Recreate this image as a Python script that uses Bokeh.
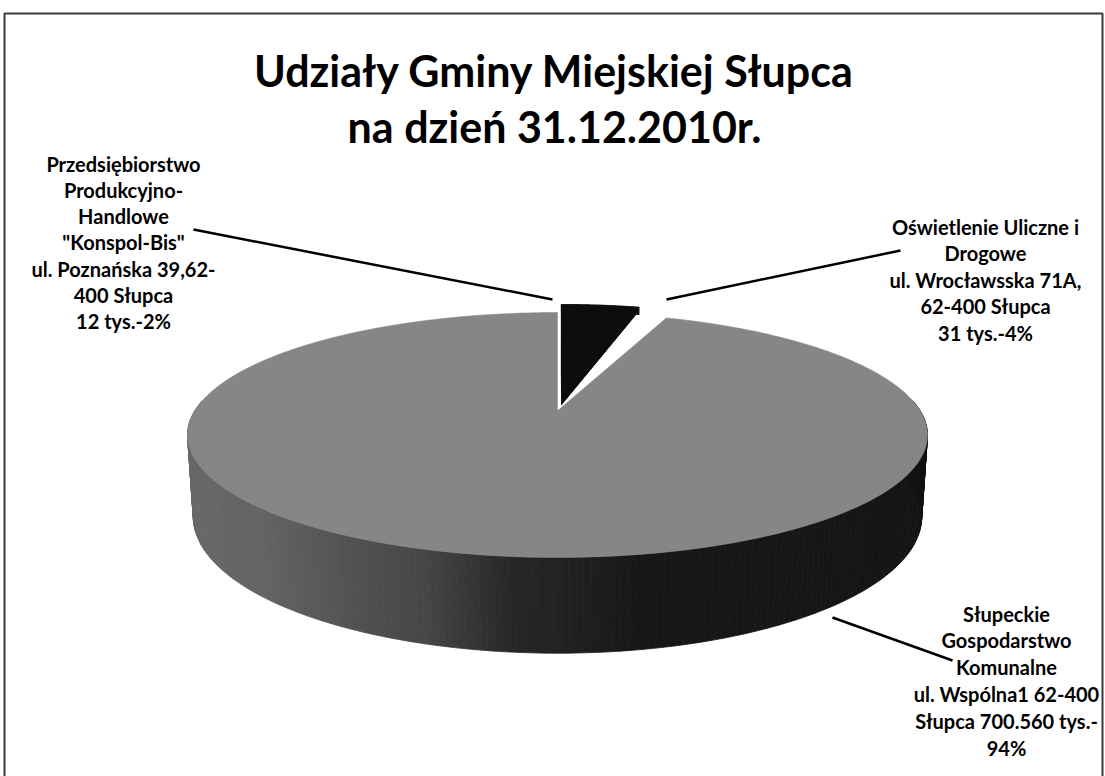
import numpy as np
from bokeh.plotting import figure
from bokeh.models import Range1d
from bokeh.core.properties import value
from bokeh.embed import file_html
from bokeh.resources import INLINE

# ---------------- data ----------------
# slices in clockwise order starting at 12 o'clock
slice_names = ["Oświetlenie Uliczne i Drogowe",
               "Przedsiębiorstwo Produkcyjno-Handlowe \"Konspol-Bis\"",
               "Słupeckie Gospodarstwo Komunalne"]
slice_values = [31.0, 12.0, 700.56]          # tys.
slice_colors = ["#0d0d0d", "#ffffff", "#868686"]
slice_explode = [0.10, 0.0, 0.0]

title_lines = ["Udziały Gminy Miejskiej Słupca", "na dzień 31.12.2010r."]
label_left = ["Przedsiębiorstwo", "Produkcyjno-", "Handlowe", "\"Konspol-Bis\"",
              "ul. Poznańska 39,62-", "400 Słupca", "12 tys.-2%"]
label_right = ["Oświetlenie Uliczne i", "Drogowe", "ul. Wrocławsska 71A,",
               "62-400 Słupca", "31 tys.-4%"]
label_bottom = ["Słupeckie", "Gospodarstwo", "Komunalne", "ul. Wspólna1 62-400",
                "Słupca 700.560 tys.-", "94%"]

# ---------------- 3D projection ----------------
alpha = np.radians(18.5)
ca, sa = np.cos(alpha), np.sin(alpha)
D = 4.8

def proj(X, Y, Z):
    depth = D + Y * ca - Z * sa
    return X / depth, -(Y * sa + Z * ca) / depth

th = np.linspace(0, 2 * np.pi, 1441)
rx, ry = proj(np.sin(th), np.cos(th), 0 * th)
CX, TOP, WIDTH, HEIGHT, THICK = 557.0, 312.0, 740.0, 245.0, 105.0
kx = WIDTH / (rx.max() - rx.min())
ky = HEIGHT / (ry.max() - ry.min())
y0 = TOP - ky * ry.min()

def scr(X, Y, Z):
    sx, sy = proj(X, Y, Z)
    return CX + kx * sx, y0 + ky * sy

# thickness so that the front wall is THICK px tall
T = sa / (D - ca) + THICK / ky
H = (T * (D - ca) - sa) / (ca + T * sa)

total = sum(slice_values)
angles = np.cumsum([0] + [v / total * 2 * np.pi for v in slice_values])

p = figure(width=1105, height=776, x_range=Range1d(0, 1105), y_range=Range1d(776, 0),
           output_backend="svg", toolbar_location=None, min_border=0)
p.axis.visible = False
p.grid.visible = False
p.outline_line_color = None
p.background_fill_color = "white"
p.border_fill_color = "white"

def wall_gray(t):
    d = np.degrees(t) % 360
    g = int(np.interp(d, [90, 170, 186, 197, 224, 270], [18, 24, 40, 70, 100, 108]))
    return "#%02x%02x%02x" % (g, g, g)

# draw order: back slices first, big gray slice last
for i in [0, 1, 2]:
    a0, a1 = angles[i], angles[i + 1]
    mid = (a0 + a1) / 2
    ex, ey = slice_explode[i] * np.sin(mid), slice_explode[i] * np.cos(mid)
    t = np.linspace(a0, a1, max(3, int(np.degrees(a1 - a0) * 2)))
    col = slice_colors[i]
    xs_all, ys_all, cols = [], [], []
    if i != 2:
        # small slice: all faces in its own colour
        for Z in (-H, 0.0):
            X = np.concatenate([[ex], ex + np.sin(t)])
            Y = np.concatenate([[ey], ey + np.cos(t)])
            sx, sy = scr(X, Y, Z + 0 * X)
            xs_all.append(list(sx)); ys_all.append(list(sy)); cols.append(col)
        for tt in (a0, a1):
            X = np.array([ex, ex + np.sin(tt), ex + np.sin(tt), ex])
            Y = np.array([ey, ey + np.cos(tt), ey + np.cos(tt), ey])
            Z = np.array([0, 0, -H, -H])
            sx, sy = scr(X, Y, Z)
            xs_all.append(list(sx)); ys_all.append(list(sy)); cols.append(col)
        X = np.concatenate([ex + np.sin(t), ex + np.sin(t[::-1])])
        Y = np.concatenate([ey + np.cos(t), ey + np.cos(t[::-1])])
        Z = np.concatenate([0 * t, -H + 0 * t])
        sx, sy = scr(X, Y, Z)
        xs_all.append(list(sx)); ys_all.append(list(sy)); cols.append(col)
        p.patches(xs_all, ys_all, fill_color=cols, line_color=cols, line_width=0.6)
    else:
        # outer wall (front part), drawn back-to-front
        lo, hi = max(a0, np.radians(85)), min(a1, np.radians(275))
        edges = np.linspace(lo, hi, 200)
        segs = list(zip(edges[:-1], edges[1:]))
        segs.sort(key=lambda s: -abs((s[0] + s[1]) / 2 - np.pi))
        for s0, s1 in segs:
            tt = np.array([s0, s1, s1, s0])
            X = ex + np.sin(tt); Y = ey + np.cos(tt)
            Z = np.array([0, 0, -H, -H])
            sx, sy = scr(X, Y, Z)
            c = wall_gray((s0 + s1) / 2)
            xs_all.append(list(sx)); ys_all.append(list(sy)); cols.append(c)
        p.patches(xs_all, ys_all, fill_color=cols, line_color=cols, line_width=0.8)
        X = np.concatenate([[ex], ex + np.sin(t)])
        Y = np.concatenate([[ey], ey + np.cos(t)])
        sx, sy = scr(X, Y, 0 * X)
        p.patch(list(sx), list(sy), fill_color=col, line_color=col, line_width=0.5)

# leader lines
p.line([193, 552], [229, 299], line_color="black", line_width=2.5)
p.line([666, 900], [299, 250], line_color="black", line_width=2.5)
p.line([832, 952], [617, 660], line_color="black", line_width=2.5)

# frame
p.line([4, 4, 1102, 1102], [790, 13, 13, 790], line_color="#3a3a3a", line_width=2)

FONT = value("Lato")

def block(lines, cx, y_first, step, size):
    ys = [y_first + j * step for j in range(len(lines))]
    p.text(x=[cx] * len(lines), y=ys, text=lines, text_font=FONT,
           text_font_style="bold", text_font_size=size, text_align="center",
           text_baseline="middle", text_color="black")

block(title_lines, 554, 70, 56, "43px")
block(label_left, 123, 163, 26.3, "20px")
block(label_right, 985, 226, 26.5, "20px")
block(label_bottom, 1006, 613, 26.8, "20px")

open("out.html", "w").write(file_html(p, INLINE))
